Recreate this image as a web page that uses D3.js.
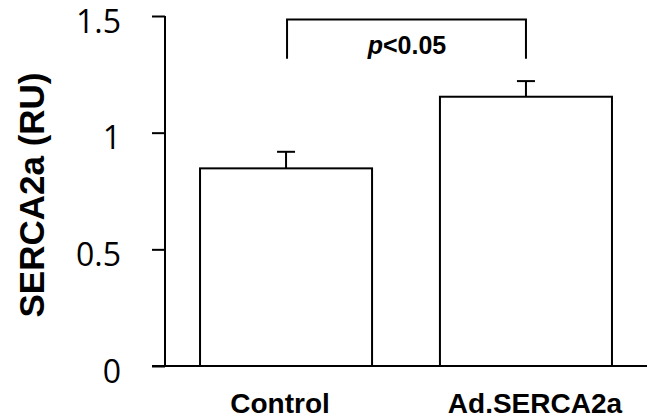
<!DOCTYPE html>
<html>
<head>
<meta charset="utf-8">
<script src="https://cdn.jsdelivr.net/npm/d3@7"></script>
<style>
  html, body { margin: 0; padding: 0; background: #fff; }
  svg { display: block; }
</style>
</head>
<body>
<svg id="chart" width="654" height="420"></svg>
<script>
const categories = ["Control", "Ad.SERCA2a"];
const means = [0.847, 1.154];
const errors = [0.071, 0.067];
const yTicks = [0, 0.5, 1, 1.5];
const yTickLabels = ["0", "0.5", "1", "1.5"];
const yLabel = "SERCA2a (RU)";
const sigLabel = "<0.05";

const svg = d3.select("#chart");
const x0 = 165, x1 = 647, yTop = 16, yBot = 366;
const labelShift = [-6, 9]; // small horizontal nudges of the category labels

const x = d3.scaleBand().domain(categories).range([x0, x1])
  .paddingInner(0.283).paddingOuter(0.146);
const y = d3.scaleLinear().domain([0, 1.5]).range([yBot, yTop]);

const data = categories.map((c, i) => ({ cat: c, mean: means[i], err: errors[i] }));

// bars
svg.append("g").selectAll("rect").data(data).join("rect")
  .attr("x", d => x(d.cat))
  .attr("y", d => y(d.mean))
  .attr("width", x.bandwidth())
  .attr("height", d => y(0) - y(d.mean))
  .attr("fill", "#fff")
  .attr("stroke", "#000")
  .attr("stroke-width", 2);

// error bars (upper only)
const eg = svg.append("g").attr("stroke", "#000").attr("stroke-width", 2);
eg.selectAll("line.stem").data(data).join("line").attr("class", "stem")
  .attr("x1", d => x(d.cat) + x.bandwidth() / 2)
  .attr("x2", d => x(d.cat) + x.bandwidth() / 2)
  .attr("y1", d => y(d.mean))
  .attr("y2", d => y(d.mean + d.err));
eg.selectAll("line.cap").data(data).join("line").attr("class", "cap")
  .attr("x1", d => x(d.cat) + x.bandwidth() / 2 - 9)
  .attr("x2", d => x(d.cat) + x.bandwidth() / 2 + 9)
  .attr("y1", d => y(d.mean + d.err))
  .attr("y2", d => y(d.mean + d.err));

// y axis
const yAxis = d3.axisLeft(y).tickValues(yTicks)
  .tickFormat((d, i) => yTickLabels[i]).tickSize(13).tickPadding(31);
const ya = svg.append("g").attr("transform", `translate(${x0},0)`).call(yAxis);
ya.select(".domain").remove();
ya.selectAll(".tick line").attr("stroke", "#000").attr("stroke-width", 2);
ya.selectAll(".tick text")
  .attr("font-family", "'Open Sans', 'Liberation Sans', Arial, sans-serif")
  .attr("font-size", 32)
  .attr("fill", "#000")
  .attr("dy", 16);
ya.append("line").attr("x1", 0).attr("x2", 0)
  .attr("y1", y(0)).attr("y2", y(1.5))
  .attr("stroke", "#000").attr("stroke-width", 2);

// x axis baseline
svg.append("line").attr("x1", x0 - 13).attr("x2", x1)
  .attr("y1", y(0)).attr("y2", y(0))
  .attr("stroke", "#000").attr("stroke-width", 2);

// x labels
const xAxis = d3.axisBottom(x).tickSize(0).tickPadding(0);
const xa = svg.append("g").attr("transform", `translate(0,${y(0)})`).call(xAxis);
xa.select(".domain").remove();
xa.selectAll(".tick text")
  .attr("font-family", "'Liberation Sans', Arial, sans-serif")
  .attr("font-weight", "bold")
  .attr("font-size", 28)
  .attr("fill", "#000")
  .attr("x", (d, i) => labelShift[i])
  .attr("y", 47)
  .attr("dy", 0);

// y label
svg.append("text")
  .attr("transform", `translate(44,${(yTop + yBot) / 2 + 4}) rotate(-90)`)
  .attr("text-anchor", "middle")
  .attr("font-family", "'Liberation Sans', Arial, sans-serif")
  .attr("font-weight", "bold")
  .attr("font-size", 35)
  .attr("fill", "#000")
  .text(yLabel);

// significance bracket
const cx = categories.map(c => x(c) + x.bandwidth() / 2);
const bracketTop = y(1.485), bracketLeg = y(1.317);
svg.append("path")
  .attr("d", `M${cx[0] + 1},${bracketLeg} V${bracketTop} H${cx[1]} V${bracketLeg}`)
  .attr("fill", "none").attr("stroke", "#000").attr("stroke-width", 2);

const st = svg.append("text")
  .attr("x", (cx[0] + cx[1]) / 2 + 1)
  .attr("y", 54)
  .attr("text-anchor", "middle")
  .attr("font-family", "'Liberation Sans', Arial, sans-serif")
  .attr("font-weight", "bold")
  .attr("font-size", 25)
  .attr("fill", "#000");
st.append("tspan").attr("font-style", "italic").text("p");
st.append("tspan").text(sigLabel);
</script>
</body>
</html>
